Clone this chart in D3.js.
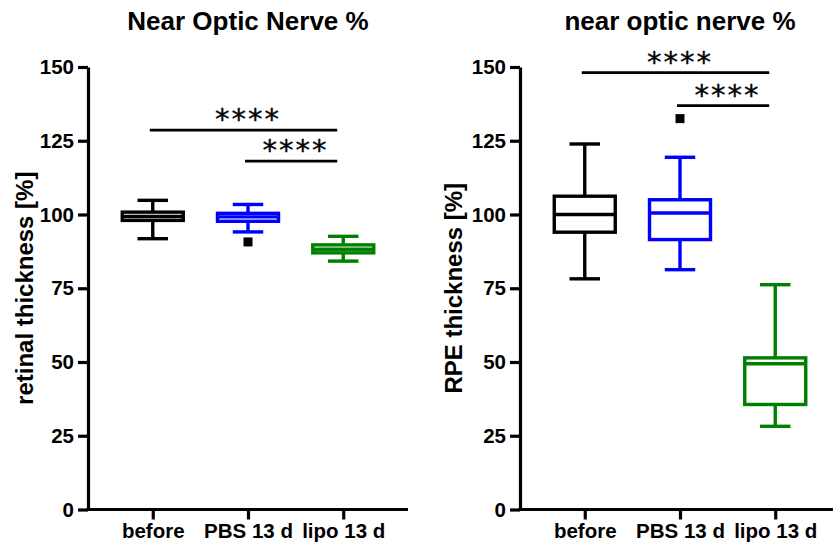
<!DOCTYPE html>
<html>
<head>
<meta charset="utf-8">
<script src="https://cdn.jsdelivr.net/npm/d3@7"></script>
<style>
  html, body { margin: 0; padding: 0; background: #fff; }
  svg { display: block; }
  text { font-family: "Liberation Sans", Arial, sans-serif; }
  text.stars { font-family: "DejaVu Sans", sans-serif; }
</style>
</head>
<body>
<svg id="chart" width="833" height="552"></svg>
<script>
// Groups on the x axis
const categories = ["before", "PBS 13 d", "lipo 13 d"];
const groupColors = ["#000000", "#0000ff", "#008000"];
const yTicks = [0, 25, 50, 75, 100, 125, 150];

// Retinal thickness near the optic nerve (% of baseline): box-plot summaries
const retinaMin    = [91.8, 94.1, 84.2];
const retinaQ1     = [98.0, 97.7, 87.0];
const retinaMedian = [99.3, 99.2, 88.2];
const retinaQ3     = [100.8, 100.4, 89.7];
const retinaMax    = [104.8, 103.4, 92.6];
const retinaOutliers = [[], [90.7], []];

// RPE thickness near the optic nerve (% of baseline)
const rpeMin    = [78.2, 81.3, 28.2];
const rpeQ1     = [94.0, 91.5, 35.6];
const rpeMedian = [100.0, 100.5, 49.4];
const rpeQ3     = [106.2, 105.0, 51.4];
const rpeMax    = [123.9, 119.4, 76.2];
const rpeOutliers = [[], [132.5], []];

// Significance brackets: [from group, to group, y value, label]
const retinaSig = [["before", "lipo 13 d", 128.6, "****"], ["PBS 13 d", "lipo 13 d", 118.1, "****"]];
const rpeSig    = [["before", "lipo 13 d", 148.1, "****"], ["PBS 13 d", "lipo 13 d", 136.9, "****"]];

const svg = d3.select("#chart");
const plotW = 320, plotTop = 67, plotBottom = 509.5;
const boxW = 61;
const tickFont = 20.5;

function panel(opts) {
  const g = svg.append("g").attr("transform", `translate(${opts.left},0)`);
  const x = d3.scalePoint().domain(categories).range([0, plotW]).padding(0.68);
  const y = d3.scaleLinear().domain([0, 150]).range([plotBottom, plotTop]);

  // Title
  svg.append("text")
    .attr("x", opts.titleX).attr("y", 30)
    .attr("text-anchor", "middle")
    .attr("font-size", 26).attr("font-weight", "bold")
    .text(opts.title);

  // Y axis
  const ya = g.append("g")
    .call(d3.axisLeft(y).tickValues(yTicks).tickSize(10).tickSizeOuter(0).tickPadding(4));
  ya.select(".domain").attr("stroke", "#000").attr("stroke-width", 3.2);
  ya.selectAll(".tick line").attr("stroke", "#000").attr("stroke-width", 3.2);
  ya.selectAll(".tick text")
    .attr("font-size", tickFont).attr("font-weight", "bold").attr("fill", "#000");

  // X axis
  const xa = g.append("g").attr("transform", `translate(0,${plotBottom})`)
    .call(d3.axisBottom(x).tickSize(10).tickSizeOuter(0).tickPadding(4));
  xa.select(".domain").attr("stroke", "#000").attr("stroke-width", 3.2)
    .attr("d", `M-1.6,0H${plotW}`);
  xa.selectAll(".tick line").attr("stroke", "#000").attr("stroke-width", 3.2);
  xa.selectAll(".tick text")
    .attr("font-size", tickFont).attr("font-weight", "bold").attr("fill", "#000");

  // Y axis label
  svg.append("text")
    .attr("transform", `translate(${opts.labelX},${(plotTop + plotBottom) / 2}) rotate(-90)`)
    .attr("text-anchor", "middle")
    .attr("font-size", 24).attr("font-weight", "bold")
    .text(opts.yLabel);

  // Box plots
  const rows = categories.map((c, i) => ({
    cat: c, color: groupColors[i],
    min: opts.min[i], q1: opts.q1[i], med: opts.median[i], q3: opts.q3[i], max: opts.max[i],
    out: opts.outliers[i]
  }));
  const bx = g.selectAll("g.box").data(rows).join("g").attr("class", "box")
    .attr("stroke", d => d.color).attr("stroke-width", 3.4).attr("fill", "none");

  bx.append("line")
    .attr("x1", d => x(d.cat)).attr("x2", d => x(d.cat))
    .attr("y1", d => y(d.q3)).attr("y2", d => y(d.max));
  bx.append("line")
    .attr("x1", d => x(d.cat)).attr("x2", d => x(d.cat))
    .attr("y1", d => y(d.q1)).attr("y2", d => y(d.min));
  bx.append("line")
    .attr("x1", d => x(d.cat) - boxW / 4).attr("x2", d => x(d.cat) + boxW / 4)
    .attr("y1", d => y(d.max)).attr("y2", d => y(d.max));
  bx.append("line")
    .attr("x1", d => x(d.cat) - boxW / 4).attr("x2", d => x(d.cat) + boxW / 4)
    .attr("y1", d => y(d.min)).attr("y2", d => y(d.min));
  bx.append("rect")
    .attr("x", d => x(d.cat) - boxW / 2).attr("width", boxW)
    .attr("y", d => y(d.q3)).attr("height", d => y(d.q1) - y(d.q3))
    .attr("fill", "#fff");
  bx.append("line")
    .attr("x1", d => x(d.cat) - boxW / 2).attr("x2", d => x(d.cat) + boxW / 2)
    .attr("y1", d => y(d.med)).attr("y2", d => y(d.med));

  // Outliers
  const pts = rows.flatMap(d => d.out.map(v => ({ cat: d.cat, v })));
  g.selectAll("rect.outlier").data(pts).join("rect").attr("class", "outlier")
    .attr("x", d => x(d.cat) - 4.5).attr("y", d => y(d.v) - 4.5)
    .attr("width", 9).attr("height", 9).attr("fill", "#000");

  // Significance brackets
  const sg = g.selectAll("g.sig").data(opts.sig).join("g").attr("class", "sig");
  sg.append("line")
    .attr("x1", d => x(d[0]) - 3).attr("x2", d => x(d[1]) - 6)
    .attr("y1", d => y(d[2])).attr("y2", d => y(d[2]))
    .attr("stroke", "#000").attr("stroke-width", 2.6);
  sg.append("text").attr("class", "stars")
    .attr("x", d => (x(d[0]) + x(d[1])) / 2)
    .attr("y", d => y(d[2]) - 1)
    .attr("text-anchor", "middle")
    .attr("font-size", 29).attr("letter-spacing", 2)
    .attr("fill", "#000")
    .attr("stroke", "#000").attr("stroke-width", 0.35)
    .text(d => d[3]);
}

panel({
  left: 88, title: "Near Optic Nerve %", titleX: 248, labelX: 33,
  yLabel: "retinal thickness [%]",
  min: retinaMin, q1: retinaQ1, median: retinaMedian, q3: retinaQ3, max: retinaMax,
  outliers: retinaOutliers, sig: retinaSig
});
panel({
  left: 520, title: "near optic nerve %", titleX: 680, labelX: 462,
  yLabel: "RPE thickness [%]",
  min: rpeMin, q1: rpeQ1, median: rpeMedian, q3: rpeQ3, max: rpeMax,
  outliers: rpeOutliers, sig: rpeSig
});
</script>
</body>
</html>
